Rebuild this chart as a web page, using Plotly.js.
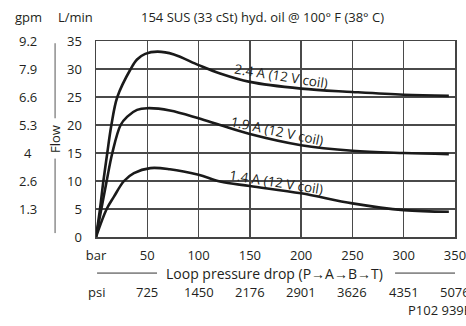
<!DOCTYPE html>
<html>
<head>
<meta charset="utf-8">
<script src="https://cdn.plot.ly/plotly-3.0.1.min.js"></script>
<style>html,body{margin:0;padding:0;background:#fff;}#chart{width:466px;height:326px;}</style>
</head>
<body>
<div id="chart"></div>
<script>
// Pressure (bar) and flow (L/min)
const pressure24 = [0, 3.9, 7.2, 11, 15, 20.8, 33.8, 40, 48, 60, 76, 100, 121, 150, 200, 250, 300, 344];
const flow24     = [0, 5, 10, 15, 20, 25, 30, 31.7, 32.7, 33.1, 32.6, 30.7, 29.2, 27.7, 26.5, 25.9, 25.4, 25.2];
const pressure19 = [0, 5.2, 10.4, 15.9, 24, 30.5, 40, 50, 72, 100, 121, 150, 200, 250, 300, 344];
const flow19     = [0, 5, 10, 15, 20, 21.5, 22.7, 23.0, 22.6, 21.2, 20.0, 18.4, 16.4, 15.4, 15.0, 14.8];
const pressure14 = [0, 10.4, 17.5, 27.3, 37, 53, 72, 100, 121, 150, 200, 250, 300, 344];
const flow14     = [0, 5, 7.2, 10, 11.4, 12.3, 12.1, 11.1, 9.9, 9.1, 7.8, 6.0, 4.8, 4.5];

const curveLabels = ["2.4 A (12 V coil)", "1.9 A (12 V coil)", "1.4 A (12 V coil)"];
const barTicks = [0, 50, 100, 150, 200, 250, 300, 350];
const barTickText = ["bar", "50", "100", "150", "200", "250", "300", "350"];
const psiTickText = ["psi", "725", "1450", "2176", "2901", "3626", "4351", "5076"];
const lpmTicks = [0, 5, 10, 15, 20, 25, 30, 35];
const gpmTickText = ["", "1.3", "2.6", "4", "5.3", "6.6", "7.9", "9.2"];

const FONT = "Open Sans, Noto Sans, sans-serif";
const TXT = "#231f20";
const FS = 13;
const GRID = "#4a4a4a";
const lineStyle = {color: "#1a1a1a", width: 2.6, shape: "spline", smoothing: 1};

const traces = [
  {x: pressure24, y: flow24, mode: "lines", line: lineStyle, hoverinfo: "skip"},
  {x: pressure19, y: flow19, mode: "lines", line: lineStyle, hoverinfo: "skip"},
  {x: pressure14, y: flow14, mode: "lines", line: lineStyle, hoverinfo: "skip"}
];

const annotations = [];
const labelPos = [[180.4, 28.75, 9], [176.2, 19.0, 12], [175.2, 9.75, 9]];
curveLabels.forEach((t, i) => {
  annotations.push({x: labelPos[i][0], y: labelPos[i][1], xref: "x", yref: "y", text: t,
    showarrow: false, textangle: labelPos[i][2], font: {family: FONT, size: 13.5, color: TXT}});
});
lpmTicks.forEach((v, i) => {
  if (gpmTickText[i]) annotations.push({x: -0.189, y: v, xref: "paper", yref: "y", text: gpmTickText[i],
    showarrow: false, xanchor: "center", yanchor: "middle", font: {family: FONT, size: FS, color: TXT}});
});
barTicks.forEach((v, i) => {
  annotations.push({x: v, y: -0.279, xref: "x", yref: "paper", text: psiTickText[i], showarrow: false,
    xanchor: "center", yanchor: "middle", font: {family: FONT, size: FS, color: TXT}});
});
annotations.push({x: 0.498, y: -0.184, xref: "paper", yref: "paper", text: "Loop pressure drop (P\u2192A\u2192B\u2192T)",
  showarrow: false, xanchor: "center", yanchor: "middle", font: {family: FONT, size: 14, color: TXT}});
annotations.push({x: -0.114, y: 17.5, xref: "paper", yref: "y", text: "Flow", textangle: -90,
  showarrow: false, xanchor: "center", yanchor: "middle", font: {family: FONT, size: FS, color: TXT}});
annotations.push({x: -0.189, y: 1.12, xref: "paper", yref: "paper", text: "gpm", showarrow: false,
  xanchor: "center", yanchor: "middle", font: {family: FONT, size: FS, color: TXT}});
annotations.push({x: -0.058, y: 1.12, xref: "paper", yref: "paper", text: "L/min", showarrow: false,
  xanchor: "center", yanchor: "middle", font: {family: FONT, size: FS, color: TXT}});
annotations.push({x: 0.463, y: 1.12, xref: "paper", yref: "paper", text: "154 SUS (33 cSt) hyd. oil @ 100\u00b0 F (38\u00b0 C)",
  showarrow: false, xanchor: "center", yanchor: "middle", font: {family: FONT, size: 13, color: TXT}});
annotations.push({x: 0.864, y: -0.372, xref: "paper", yref: "paper", text: "P102 939E", showarrow: false,
  xanchor: "left", yanchor: "middle", font: {family: FONT, size: FS, color: TXT}});

const shapes = [
  {type: "line", xref: "paper", yref: "y", x0: -0.114, x1: -0.114, y0: 0.7, y1: 14.0, line: {color: "#555", width: 1}},
  {type: "line", xref: "paper", yref: "y", x0: -0.114, x1: -0.114, y0: 21.2, y1: 34.6, line: {color: "#555", width: 1}},
  {type: "line", xref: "paper", yref: "paper", x0: 0.003, x1: 0.17, y0: -0.184, y1: -0.184, line: {color: "#333", width: 1}},
  {type: "line", xref: "paper", yref: "paper", x0: 0.833, x1: 1.0, y0: -0.184, y1: -0.184, line: {color: "#333", width: 1}}
];

const layout = {
  width: 466, height: 326,
  margin: {l: 96, r: 11, t: 41, b: 89},
  paper_bgcolor: "#ffffff", plot_bgcolor: "#ffffff",
  showlegend: false,
  font: {family: FONT, size: FS, color: TXT},
  xaxis: {range: [0, 350], tickvals: barTicks, ticktext: barTickText, showgrid: true, gridcolor: GRID, gridwidth: 1.3,
    showline: true, mirror: true, linecolor: "#444", linewidth: 1.5, zeroline: false, ticklabeloverflow: "allow",
    ticks: "", ticklabelstandoff: 6, fixedrange: true},
  yaxis: {range: [0, 35], tickvals: lpmTicks, showgrid: true, gridcolor: GRID, gridwidth: 1.3,
    showline: true, mirror: true, linecolor: "#444", linewidth: 1.5, zeroline: false,
    ticks: "", ticklabelstandoff: 10, fixedrange: true},
  annotations: annotations,
  shapes: shapes
};

Plotly.newPlot("chart", traces, layout, {staticPlot: true, displayModeBar: false});
</script>
</body>
</html>
